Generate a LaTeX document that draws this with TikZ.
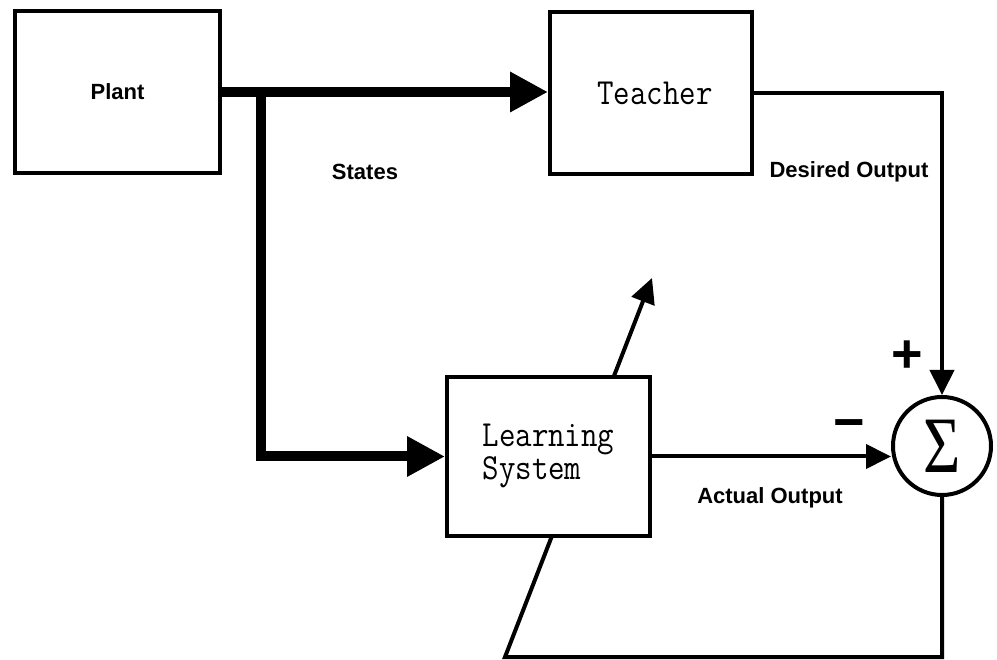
\documentclass[tikz,border=0pt]{standalone}
\usepackage{graphicx}
\usepackage{fontspec}
\setmainfont{Liberation Sans}
\newfontfamily\sigmafont{Liberation Serif}
\usetikzlibrary{arrows.meta,backgrounds}

% taller typewriter lettering for the block captions
\newcommand\tallmono[1]{\scalebox{1}[1.15]{#1}}

\begin{document}
\begin{tikzpicture}[x=1pt,y=-1pt,
  block/.style={draw, line width=4pt, fill=white, inner sep=0pt},
  tag/.style={font=\fontsize{22}{24}\selectfont\bfseries, inner sep=0pt},
  sign/.style={font=\fontsize{54}{54}\selectfont\bfseries, inner sep=0pt},
  mono/.style={font=\ttfamily\fontsize{32}{29}\selectfont},
  bus/.style={line width=10pt, -{Triangle[length=38pt,width=38pt]}},
  wire/.style={line width=4pt, -{Triangle[length=25pt,width=24pt]}},
]
\useasboundingbox (0,0) rectangle (997,660);

% blocks
\node[block, tag, minimum width=205pt, minimum height=162pt] (plant) at (117.5,92) {Plant};
\node[block, mono, minimum width=202pt, minimum height=162pt] (teacher) at (651,93)
  {\hspace{8pt}\tallmono{Teacher}};
\node[block, mono, minimum width=203pt, minimum height=159pt] (learning) at (548.5,456.5)
  {\tallmono{\begin{tabular}{@{}l@{}}Learning\\System\end{tabular}}};
\node[draw, circle, line width=4pt, minimum size=98pt, inner sep=0pt, fill=white] (sum) at (942,446)
  {\scalebox{0.8}[1]{\sigmafont\fontsize{80}{80}\selectfont Σ}};

% signs at the summing junction
\node[sign] (plus) at (907,357) {+};
\node[sign] (minus) at (849,430) {−};

% signal labels
\node[tag] (states) at (365,172) {States};
\node[tag] (desired) at (849,172) {Desired Output};
\node[tag] (actual) at (770,498) {Actual Output};

% helper points
\coordinate (split) at (261,92);
\coordinate (fb) at (505,657);
\coordinate (adapt) at (652,278);

% state bus
\draw[bus] (plant.east) -- (plant.east -| teacher.west);
\draw[bus] (split) |- (learning.west);

% outputs into the summing junction
\draw[wire] (teacher.east) -| (sum.north);
\draw[wire] (learning.east) -- (learning.east -| sum.west);

% error feedback, passing behind the learning block
\begin{scope}[on background layer]
  \fill[white] (0,0) rectangle (997,660);
  \draw[wire] (sum.south) |- (fb) -- (adapt);
\end{scope}
\end{tikzpicture}
\end{document}
